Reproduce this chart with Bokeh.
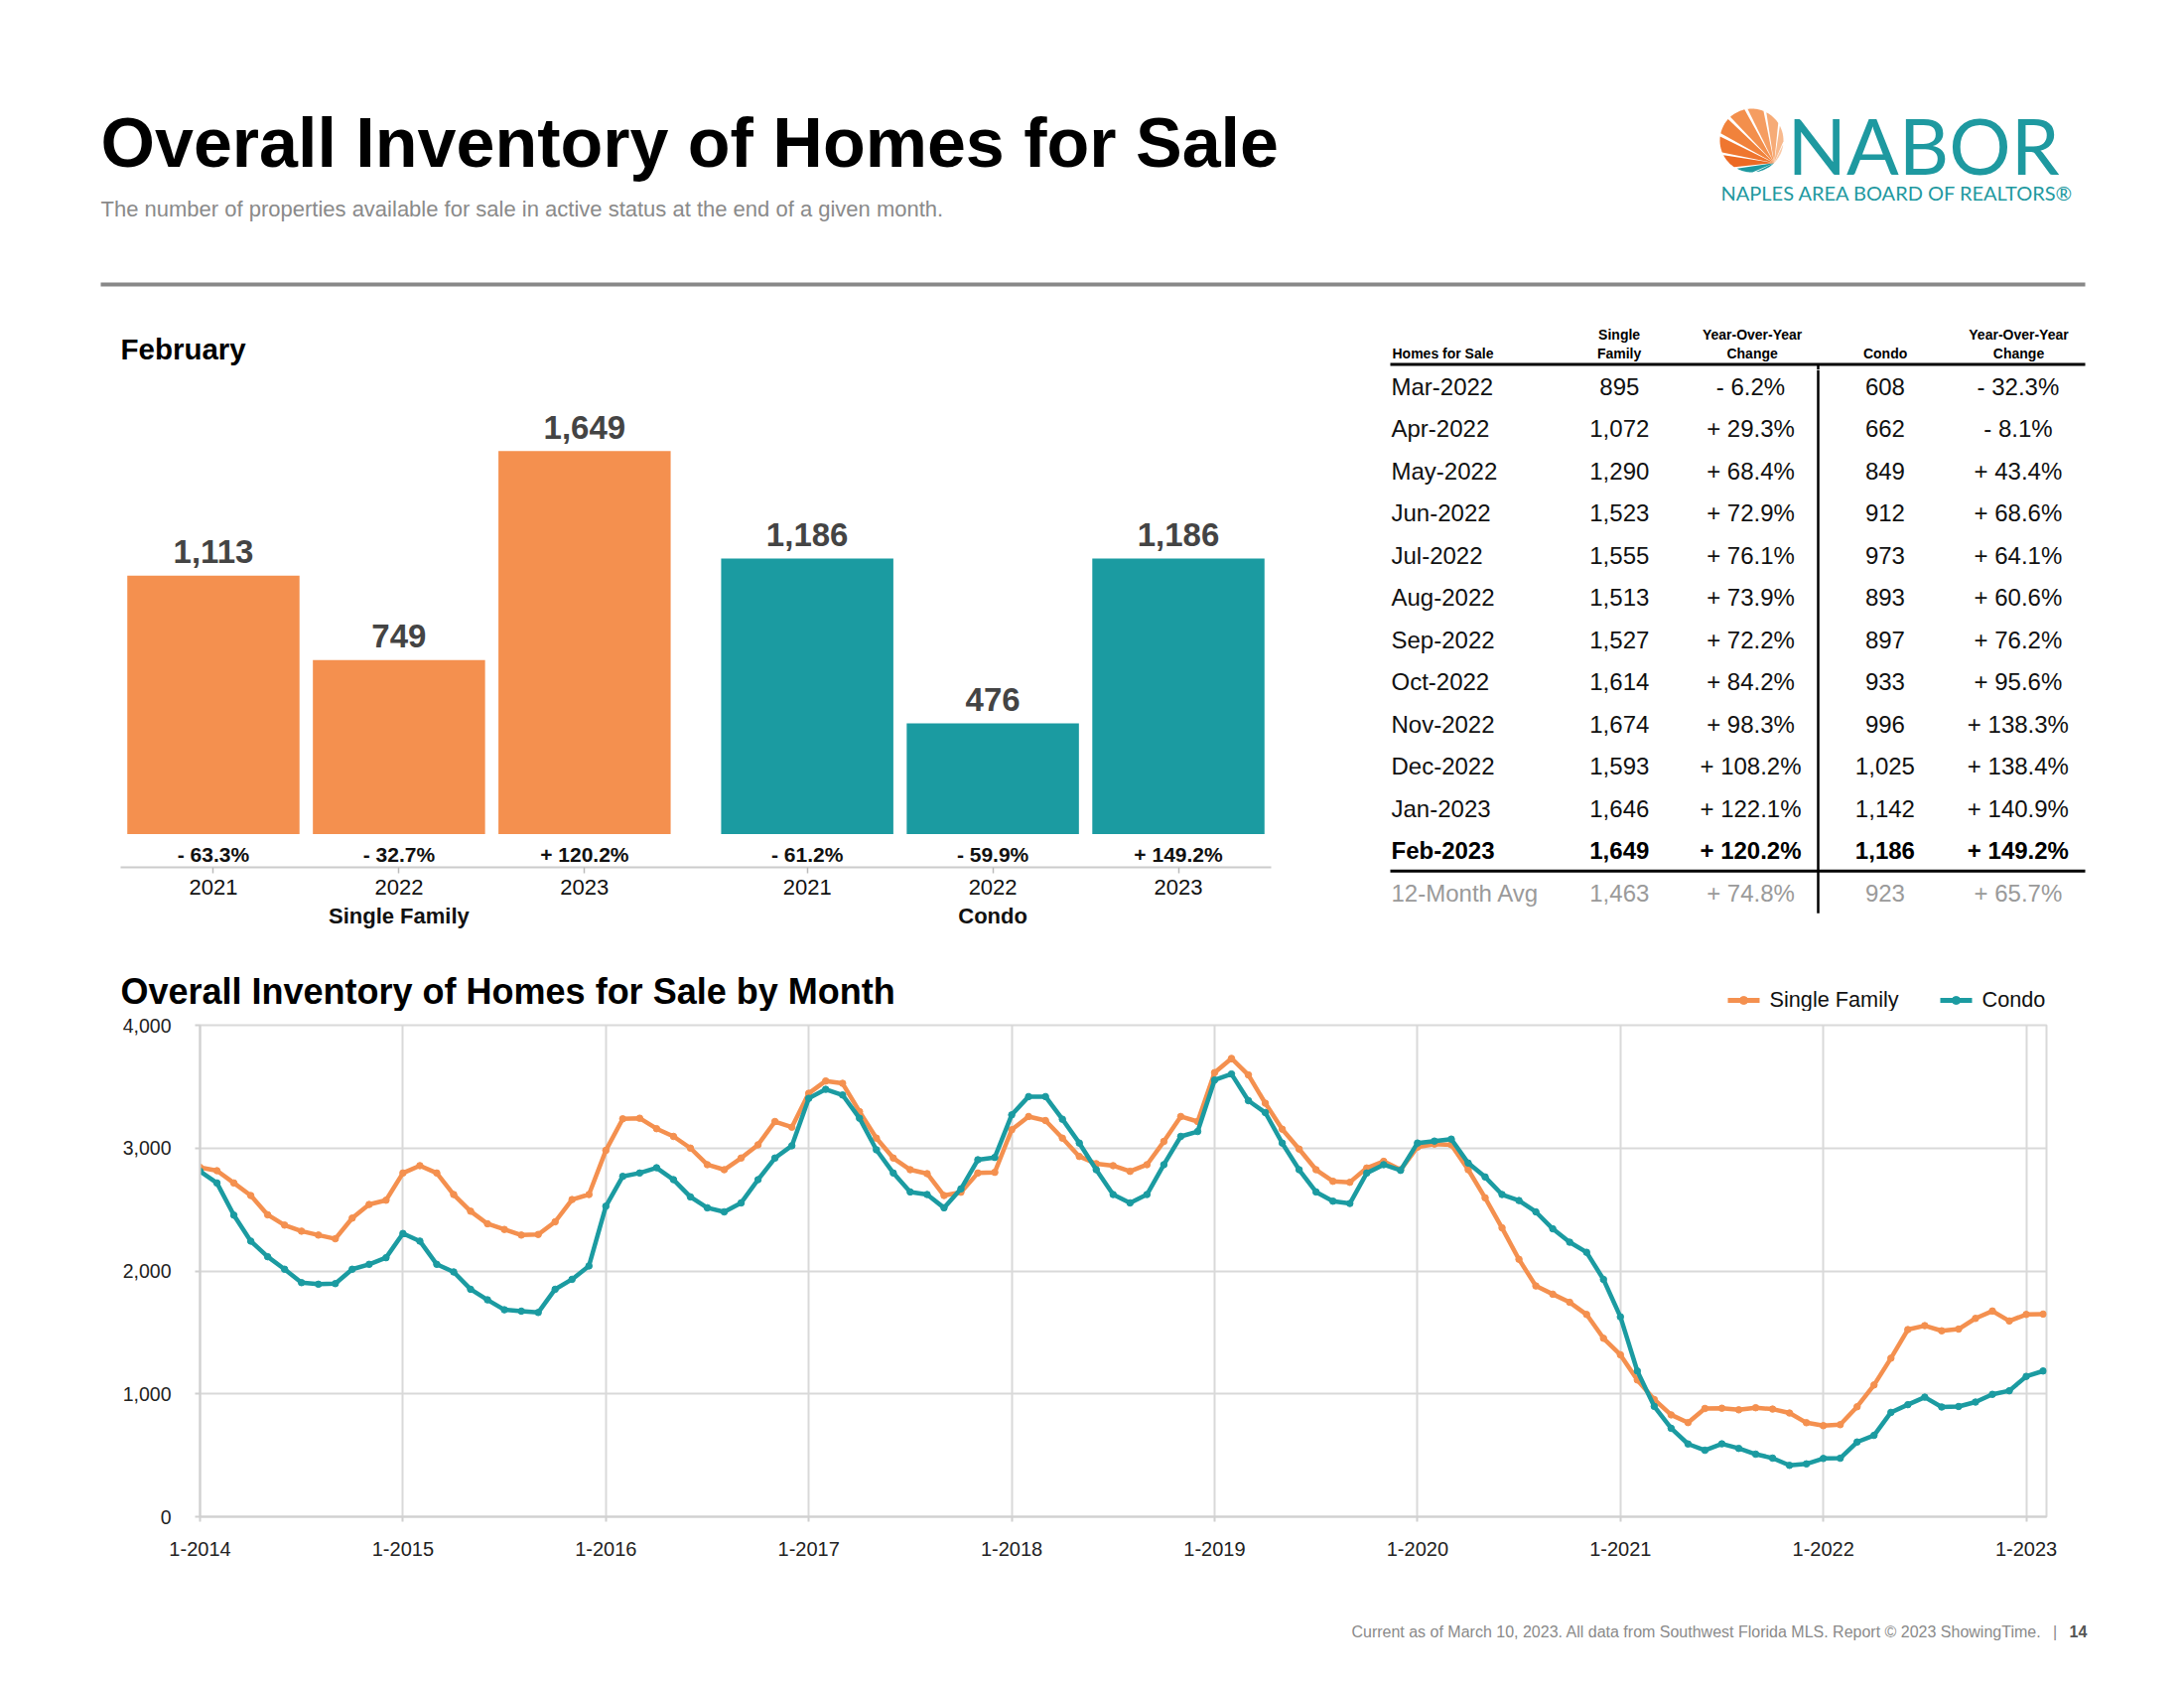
import numpy as np
from bokeh.plotting import figure
from bokeh.layouts import column, row
from bokeh.models import Range1d, FactorRange, ColumnDataSource, FixedTicker, NumeralTickFormatter
from bokeh.core.properties import value
from bokeh.embed import file_html
from bokeh.resources import INLINE

# ---------------- data ----------------
years = ["2021", "2022", "2023"]
groups = ["Single Family", "Condo"]
feb_single_family = [1113, 749, 1649]
feb_condo = [1186, 476, 1186]
feb_sf_change = [-63.3, -32.7, 120.2]
feb_condo_change = [-61.2, -59.9, 149.2]

table_months = ["Mar-2022", "Apr-2022", "May-2022", "Jun-2022", "Jul-2022", "Aug-2022",
                "Sep-2022", "Oct-2022", "Nov-2022", "Dec-2022", "Jan-2023", "Feb-2023"]
table_sf = [895, 1072, 1290, 1523, 1555, 1513, 1527, 1614, 1674, 1593, 1646, 1649]
table_sf_change = [-6.2, 29.3, 68.4, 72.9, 76.1, 73.9, 72.2, 84.2, 98.3, 108.2, 122.1, 120.2]
table_condo = [608, 662, 849, 912, 973, 893, 897, 933, 996, 1025, 1142, 1186]
table_condo_change = [-32.3, -8.1, 43.4, 68.6, 64.1, 60.6, 76.2, 95.6, 138.3, 138.4, 140.9, 149.2]
avg_label = "12-Month Avg"
avg_sf, avg_sf_change = 1463, 74.8
avg_condo, avg_condo_change = 923, 65.7

first_year = 2014
sf_monthly = [2843, 2816, 2716, 2614, 2457, 2373, 2324, 2292, 2262, 2430, 2541, 2576,
              2797, 2857, 2797, 2622, 2486, 2384, 2338, 2292, 2297, 2400, 2581, 2622,
              2981, 3238, 3243, 3158, 3095, 3000, 2865, 2824, 2919, 3027, 3216, 3170,
              3446, 3546, 3527, 3297, 3081, 2919, 2824, 2792, 2614, 2641, 2797, 2803,
              3149, 3257, 3224, 3081, 2932, 2873, 2857, 2811, 2865, 3054, 3257, 3216,
              3614, 3730, 3595, 3365, 3154, 2992, 2824, 2730, 2722, 2838, 2892, 2824,
              3008, 3033, 3027, 2824, 2595, 2351, 2095, 1878, 1811, 1745, 1646, 1452,
              1318, 1113, 954, 829, 766, 881, 883, 870, 887, 876, 844, 765,
              741, 749, 895, 1072, 1290, 1523, 1555, 1513, 1527, 1614, 1674, 1593,
              1646, 1649]
condo_monthly = [2811, 2716, 2454, 2243, 2116, 2014, 1905, 1892, 1897, 2014, 2054, 2108,
                 2305, 2243, 2054, 1992, 1851, 1765, 1684, 1673, 1662, 1851, 1932, 2041,
                 2527, 2770, 2797, 2840, 2743, 2603, 2514, 2481, 2554, 2743, 2919, 3019,
                 3405, 3478, 3432, 3243, 2986, 2797, 2643, 2622, 2514, 2668, 2905, 2924,
                 3270, 3419, 3419, 3235, 3041, 2824, 2622, 2554, 2622, 2865, 3095, 3135,
                 3554, 3603, 3386, 3289, 3041, 2824, 2643, 2568, 2549, 2797, 2865, 2819,
                 3041, 3057, 3073, 2878, 2765, 2622, 2573, 2481, 2343, 2234, 2152, 1931,
                 1627, 1186, 898, 720, 592, 541, 593, 556, 509, 477, 418, 430,
                 474, 476, 608, 662, 849, 912, 973, 893, 897, 933, 996, 1025,
                 1142, 1186]
y_ticks = [0, 1000, 2000, 3000, 4000]

# ---------------- styles ----------------
ORANGE = "#F4904F"
TEAL = "#1B9BA1"
LOGO_TEAL = "#1E99A0"
FONT = value("Liberation Sans")
W = 2196
BASE_SHIFT = 0.3  # compensates the renderer's alphabetic-baseline offset (em)


def canvas(w, h):
    p = figure(width=w, height=h, x_range=Range1d(0, w), y_range=Range1d(h, 0),
               output_backend="svg", toolbar_location=None, min_border=0,
               x_axis_location=None, y_axis_location=None)
    p.grid.visible = False
    p.outline_line_color = None
    p.background_fill_color = "white"
    p.border_fill_color = "white"
    return p


def txt(p, x, y, s, size, color="#000000", style="normal", align="left", font=FONT):
    xs = x if isinstance(x, list) else [x]
    ys = y if isinstance(y, list) else [y]
    ss = s if isinstance(s, list) else [s]
    if len(xs) == 1 and len(ss) > 1:
        xs = xs * len(ss)
    if len(ys) == 1 and len(ss) > 1:
        ys = ys * len(ss)
    p.text(x=xs, y=ys, text=ss, text_font=font, text_font_size=value(f"{size}px"),
           text_font_style=style, text_color=color, text_align=align,
           text_baseline="alphabetic", y_offset=-BASE_SHIFT * size)


def pct(v):
    return ("+ " if v >= 0 else "- ") + f"{abs(v):.1f}%"


# ---------------- header (page y 0..372) ----------------
hdr = canvas(W, 372)
txt(hdr, 101, 164.5, "Overall Inventory of Homes for Sale", 70, style="bold")
txt(hdr, 101, 216.5, "The number of properties available for sale in active status at the end of a given month.",
    22, color="#8a8a8a")
hdr.segment(x0=[101], y0=[286], x1=[2100], y1=[286], line_color="#888888", line_width=4)

# logo: shell made of ribs radiating from a hinge point
cx, cy, r = 1764, 141, 32
hx, hy = cx + r * np.cos(np.pi / 4), cy + r * np.sin(np.pi / 4)
base = np.arctan2(cy - hy, cx - hx)
rib_colors = [LOGO_TEAL, LOGO_TEAL, "#EC6A24", "#EF762F", "#F1823B", "#F38F4C",
              "#F59D61", "#F6AB77", "#F8BA8E", "#FAC9A6"]
edges = np.linspace(base - np.pi / 2 + 0.05, base + np.pi / 2 - 0.05, len(rib_colors) + 1)
xs_l, ys_l = [], []
for i in range(len(rib_colors)):
    t = np.linspace(edges[i] + 0.025, edges[i + 1] - 0.025, 16)
    d = 2 * r * np.cos(t - base)
    xs_l.append([hx] + list(hx + d * np.cos(t)))
    ys_l.append([hy] + list(hy + d * np.sin(t)))
hdr.patches(xs_l, ys_l, fill_color=rib_colors, line_color=None)
txt(hdr, 1800, 169, "NABOR", 78, color=LOGO_TEAL, font=value("Lato"))
txt(hdr, 1733, 199, "NAPLES AREA BOARD OF REALTORS®", 20, color=LOGO_TEAL, font=value("Lato"))

txt(hdr, 121, 360, "February", 29.5, style="bold")

# table header
txt(hdr, 1402, 359.5, "Homes for Sale", 14, style="bold")
txt(hdr, 1630.6, 340.5, "Single", 14, style="bold", align="center")
txt(hdr, 1630.6, 359.5, "Family", 14, style="bold", align="center")
txt(hdr, 1764.6, 340.5, "Year-Over-Year", 14, style="bold", align="center")
txt(hdr, 1764.6, 359.5, "Change", 14, style="bold", align="center")
txt(hdr, 1898.6, 359.5, "Condo", 14, style="bold", align="center")
txt(hdr, 2033, 340.5, "Year-Over-Year", 14, style="bold", align="center")
txt(hdr, 2033, 359.5, "Change", 14, style="bold", align="center")
hdr.segment(x0=[1400], y0=[366.5], x1=[2100], y1=[366.5], line_color="#000000", line_width=3)
hdr.segment(x0=[1831], y0=[366.5], x1=[1831], y1=[372], line_color="#000000", line_width=2.5)

# ---------------- February bar chart (page x 0..1360, y 372..950) ----------------
factors = [(g, y) for g in groups for y in years]
bar_vals = feb_single_family + feb_condo
bar_chg = feb_sf_change + feb_condo_change
bar_src = ColumnDataSource(dict(
    x=factors, top=bar_vals,
    color=[ORANGE] * len(years) + [TEAL] * len(years),
    label=[f"{v:,}" for v in bar_vals],
    chg=[pct(v) for v in bar_chg],
    zero=[0] * len(bar_vals),
))
bar = figure(width=1360, height=578,
             x_range=FactorRange(*factors, range_padding=0, group_padding=0.2, factor_padding=0),
             y_range=Range1d(-143.7, 1999.1),
             output_backend="svg", toolbar_location=None,
             min_border_left=121, min_border_right=80, min_border_top=0, min_border_bottom=77,
             y_axis_location=None)
bar.grid.visible = False
bar.outline_line_color = None
bar.vbar(x="x", top="top", width=0.928, source=bar_src, fill_color="color", line_color=None)
bar.text(x="x", y="top", text="label", source=bar_src, text_font=FONT,
         text_font_size=value("33px"), text_font_style="bold", text_color="#444444",
         text_align="center", text_baseline="alphabetic", y_offset=-14 - BASE_SHIFT * 33)
bar.text(x="x", y="zero", text="chg", source=bar_src, text_font=FONT,
         text_font_size=value("21px"), text_font_style="bold", text_color="#111111",
         text_align="center", text_baseline="alphabetic", y_offset=27 - BASE_SHIFT * 21)
ax = bar.xaxis[0]
ax.axis_line_color = "#cccccc"
ax.axis_line_width = 2
ax.major_tick_line_color = "#bbbbbb"
ax.major_tick_line_width = 1.5
ax.major_tick_out = 6
ax.major_tick_in = 0
ax.minor_tick_line_color = None
ax.major_label_text_font = "Liberation Sans"
ax.major_label_text_font_size = "22px"
ax.major_label_text_color = "#111111"
ax.major_label_text_line_height = 1.75
ax.major_label_standoff = 6
ax.group_text_font = "Liberation Sans"
ax.group_text_font_size = "22px"
ax.group_text_font_style = "bold"
ax.group_text_color = "#111111"
ax.separator_line_color = None

# ---------------- table (page x 1360..2196, y 372..950) ----------------
ROW_H = 42.5
tb_h = 578
first_base = 24.0  # px from the top of the table panel to the first baseline
tb = figure(width=W - 1360, height=tb_h, x_range=Range1d(0, W - 1360),
            y_range=Range1d((tb_h - first_base) / ROW_H, -first_base / ROW_H),
            output_backend="svg", toolbar_location=None, min_border=0,
            x_axis_location=None, y_axis_location=None)
tb.grid.visible = False
tb.outline_line_color = None
COLS = dict(month=41, sf=270.8, sfchg=403, condo=538.4, condochg=672.4)
n = len(table_months)
norm = list(range(n - 1))
DARK = "#111111"
txt(tb, COLS["month"], norm, [table_months[i] for i in norm], 24, color=DARK)
txt(tb, COLS["sf"], norm, [f"{table_sf[i]:,}" for i in norm], 24, color=DARK, align="center")
txt(tb, COLS["sfchg"], norm, [pct(table_sf_change[i]) for i in norm], 24, color=DARK, align="center")
txt(tb, COLS["condo"], norm, [f"{table_condo[i]:,}" for i in norm], 24, color=DARK, align="center")
txt(tb, COLS["condochg"], norm, [pct(table_condo_change[i]) for i in norm], 24, color=DARK, align="center")
last = n - 1
txt(tb, COLS["month"], last, table_months[last], 24, style="bold")
txt(tb, COLS["sf"], last, f"{table_sf[last]:,}", 24, style="bold", align="center")
txt(tb, COLS["sfchg"], last, pct(table_sf_change[last]), 24, style="bold", align="center")
txt(tb, COLS["condo"], last, f"{table_condo[last]:,}", 24, style="bold", align="center")
txt(tb, COLS["condochg"], last, pct(table_condo_change[last]), 24, style="bold", align="center")
GRAY = "#9a9a9a"
txt(tb, COLS["month"], n, avg_label, 24, color=GRAY)
txt(tb, COLS["sf"], n, f"{avg_sf:,}", 24, color=GRAY, align="center")
txt(tb, COLS["sfchg"], n, pct(avg_sf_change), 24, color=GRAY, align="center")
txt(tb, COLS["condo"], n, f"{avg_condo:,}", 24, color=GRAY, align="center")
txt(tb, COLS["condochg"], n, pct(avg_condo_change), 24, color=GRAY, align="center")
rule_y = last + 0.31
tb.segment(x0=[40], y0=[rule_y], x1=[740], y1=[rule_y], line_color="#000000", line_width=3)
tb.segment(x0=[471], y0=[-first_base / ROW_H], x1=[471], y1=[n + 0.31],
           line_color="#000000", line_width=2.5)

# ---------------- line chart title + legend strip (page y 950..1018) ----------------
strip = canvas(W, 68)
txt(strip, 121, 59, "Overall Inventory of Homes for Sale by Month", 36, style="bold")
for (x0, x1, col, name, tx) in [(1740, 1772, ORANGE, "Single Family", 1782),
                                (1954, 1986, TEAL, "Condo", 1996)]:
    strip.segment(x0=[x0], y0=[57], x1=[x1], y1=[57], line_color=col, line_width=5)
    strip.scatter(x=[(x0 + x1) / 2], y=[57], size=8, color=col)
    txt(strip, tx, 62.5, name, 21.7, color=DARK)

# ---------------- monthly line chart (page y 1018..1600) ----------------
months = list(range(len(sf_monthly)))
month_labels = [f"{(k % 12) + 1}-{first_year + k // 12}" for k in months]
jan_ticks = [k for k in months if k % 12 == 0]
lp = figure(width=W, height=582, x_range=Range1d(0, 109.2), y_range=Range1d(0, 4000),
            output_backend="svg", toolbar_location=None,
            min_border_left=201, min_border_right=W - 2061, min_border_top=14, min_border_bottom=73)
lp.background_fill_color = "white"
lp.outline_line_color = "#d9d9d9"
lp.outline_line_width = 2
lp.xaxis.ticker = FixedTicker(ticks=jan_ticks)
lp.xaxis.major_label_overrides = {k: month_labels[k] for k in jan_ticks}
lp.yaxis.ticker = FixedTicker(ticks=y_ticks)
lp.yaxis.formatter = NumeralTickFormatter(format="0,0")
for a in (lp.xaxis[0], lp.yaxis[0]):
    a.axis_line_color = "#d0d0d0"
    a.axis_line_width = 2
    a.major_tick_line_color = "#d0d0d0"
    a.major_tick_line_width = 2
    a.major_tick_out = 5
    a.major_tick_in = 0
    a.minor_tick_line_color = None
    a.major_label_text_font = "Liberation Sans"
    a.major_label_text_color = "#222222"
lp.xaxis.major_label_text_font_size = "20px"
lp.xaxis.major_label_standoff = 20
lp.yaxis.major_label_text_font_size = "19.5px"
lp.yaxis.major_label_standoff = 24
lp.xgrid.grid_line_color = "#d9d9d9"
lp.xgrid.grid_line_width = 2
lp.ygrid.grid_line_color = "#d9d9d9"
lp.ygrid.grid_line_width = 2
src = ColumnDataSource(dict(x=months, sf=sf_monthly, condo=condo_monthly))
lp.line("x", "sf", source=src, line_color=ORANGE, line_width=4.5)
lp.scatter("x", "sf", source=src, size=6.5, color=ORANGE)
lp.line("x", "condo", source=src, line_color=TEAL, line_width=4.5)
lp.scatter("x", "condo", source=src, size=6.5, color=TEAL)

# ---------------- footer (page y 1600..1696) ----------------
foot = canvas(W, 96)
txt(foot, 2056, 47.7, "Current as of March 10, 2023. All data from Southwest Florida MLS. Report © 2023 ShowingTime.",
    16, color="#8a8a8a", align="right")
txt(foot, 2069.6, 47.7, "|", 16, color="#8a8a8a", align="center")
txt(foot, 2084, 47.7, "14", 16, color="#555555", style="bold")

layout = column(column(hdr), row(column(bar), column(tb), spacing=0),
                column(strip), column(lp), column(foot), spacing=0)
open("out.html", "w").write(file_html(layout, INLINE))
